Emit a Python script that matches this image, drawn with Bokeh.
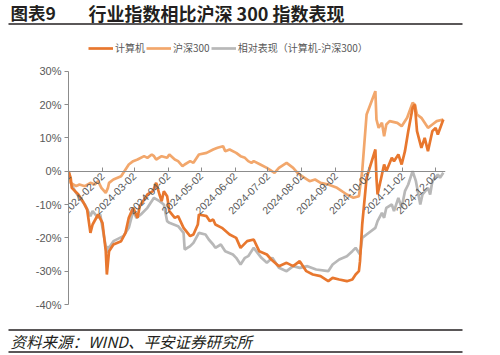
import math
import pandas as pd
from bokeh.plotting import figure
from bokeh.models import (Range1d, FixedTicker, DatetimeTickFormatter,
                          PrintfTickFormatter, Legend, LegendItem)
from bokeh.layouts import column
from bokeh.embed import file_html
from bokeh.resources import INLINE
from bokeh.core.properties import value

# ---------------- data ----------------
title_tag = "图表9"
title_text = "行业指数相比沪深 300 指数表现"
source_text = "资料来源：WIND、平安证券研究所"
series_names = ["计算机", "沪深300", "相对表现（计算机-沪深300）"]

tick_dates = ["2024-01-02", "2024-02-02", "2024-03-02", "2024-04-02", "2024-05-02",
              "2024-06-02", "2024-07-02", "2024-08-02", "2024-09-02", "2024-10-02",
              "2024-11-02", "2024-12-02"]
y_ticks = [-40, -30, -20, -10, 0, 10, 20, 30]

csi_dates = ["2024-01-02", "2024-01-04", "2024-01-09", "2024-01-12", "2024-01-17", "2024-01-22",
             "2024-01-26", "2024-01-29", "2024-02-01", "2024-02-05", "2024-02-07", "2024-02-08",
             "2024-02-12", "2024-02-19", "2024-02-22", "2024-02-26", "2024-03-01", "2024-03-05",
             "2024-03-11", "2024-03-14", "2024-03-18", "2024-03-20", "2024-03-22", "2024-03-27",
             "2024-04-01", "2024-04-03", "2024-04-08", "2024-04-11", "2024-04-15", "2024-04-17",
             "2024-04-22", "2024-04-25", "2024-04-30", "2024-05-07", "2024-05-13", "2024-05-17",
             "2024-05-22", "2024-05-24", "2024-05-28", "2024-06-03", "2024-06-07", "2024-06-11",
             "2024-06-14", "2024-06-17", "2024-06-19", "2024-06-25", "2024-07-01", "2024-07-08",
             "2024-07-12", "2024-07-19", "2024-07-25", "2024-07-29", "2024-08-02", "2024-08-09",
             "2024-08-14", "2024-08-19", "2024-08-26", "2024-09-03", "2024-09-12", "2024-09-18",
             "2024-09-23", "2024-09-26", "2024-09-30", "2024-10-08", "2024-10-09", "2024-10-11",
             "2024-10-14", "2024-10-16", "2024-10-18", "2024-10-21", "2024-10-28", "2024-11-01",
             "2024-11-06", "2024-11-11", "2024-11-13", "2024-11-15", "2024-11-19", "2024-11-25",
             "2024-11-29", "2024-12-03", "2024-12-09"]
csi_vals = [0, -3.5, -4.5, -4, -4.5, -3.5,
            -4, -3, -5, -6.5, -5, -3.5,
            -2.5, -1.5, 0, 2, 3, 3.5,
            4.5, 4, 5, 4.5, 3.5, 4.5,
            4, 5, 3.5, 3, 1.5, 2,
            3, 2.5, 5, 5.5, 6.5, 7,
            7.5, 6, 6.5, 5.5, 4.5, 4,
            3, 2.5, 3, 2, 1, -0.5,
            1, 2.5, 1, -0.5, -1.5, -3,
            -2.5, -3.5, -4, -5, -7, -8,
            -7.5, 0, 17, 24, 15.5, 13,
            14.5, 10.5, 14, 15, 14.5, 13.5,
            16, 20.5, 20, 17, 16, 13,
            14, 15, 15.5]

comp_dates = ["2024-01-02", "2024-01-04", "2024-01-05", "2024-01-11", "2024-01-15", "2024-01-19",
              "2024-01-22", "2024-01-24", "2024-01-29", "2024-02-02", "2024-02-05", "2024-02-06",
              "2024-02-08", "2024-02-12", "2024-02-19", "2024-02-23", "2024-02-26", "2024-03-01",
              "2024-03-05", "2024-03-07", "2024-03-14", "2024-03-19", "2024-03-22", "2024-03-25",
              "2024-03-27", "2024-03-29", "2024-04-01", "2024-04-03", "2024-04-08", "2024-04-11",
              "2024-04-16", "2024-04-22", "2024-04-25", "2024-04-29", "2024-04-30", "2024-05-07",
              "2024-05-10", "2024-05-13", "2024-05-15", "2024-05-21", "2024-05-28", "2024-06-03",
              "2024-06-07", "2024-06-13", "2024-06-19", "2024-06-24", "2024-07-01", "2024-07-05",
              "2024-07-12", "2024-07-19", "2024-07-25", "2024-07-31", "2024-08-06", "2024-08-12",
              "2024-08-19", "2024-08-26", "2024-08-30", "2024-09-05", "2024-09-12", "2024-09-17",
              "2024-09-20", "2024-09-23", "2024-09-24", "2024-09-26", "2024-09-30", "2024-10-08",
              "2024-10-09", "2024-10-10", "2024-10-14", "2024-10-16", "2024-10-18", "2024-10-23",
              "2024-10-25", "2024-10-29", "2024-11-01", "2024-11-04", "2024-11-07", "2024-11-11",
              "2024-11-13", "2024-11-15", "2024-11-19", "2024-11-22", "2024-11-25", "2024-11-29",
              "2024-12-02", "2024-12-04", "2024-12-09"]
comp_vals = [0, -2, -5, -7, -9, -11.5,
             -18.5, -16, -13, -15.5, -24, -31,
             -24, -22, -21, -18.5, -14, -11,
             -14, -10.5, -7, -6, -3.5, -7,
             -9, -6, -7.5, -12, -14, -13.5,
             -17, -19.5, -19, -16, -13, -13.5,
             -15, -14.5, -16, -17, -19, -20,
             -23, -21, -20.5, -24, -25, -26.5,
             -28.5, -27.5, -28.5, -27, -30, -31,
             -31.5, -33, -32, -32.5, -33, -32.5,
             -31, -30, -27, -16, -2, 6.5,
             -2, -7, -1, 2, 0, 4,
             3, 5, 2, 6, 12, 19,
             20, 12, 7, 10, 6, 12,
             13, 11, 15.5]

rel_dates = ["2024-01-02", "2024-01-04", "2024-01-08", "2024-01-12", "2024-01-17", "2024-01-22",
             "2024-01-24", "2024-01-29", "2024-01-31", "2024-02-02", "2024-02-06", "2024-02-07",
             "2024-02-08", "2024-02-12", "2024-02-21", "2024-02-26", "2024-03-01", "2024-03-04",
             "2024-03-08", "2024-03-14", "2024-03-20", "2024-03-25", "2024-03-29", "2024-04-01",
             "2024-04-03", "2024-04-11", "2024-04-16", "2024-04-17", "2024-04-22", "2024-04-25",
             "2024-04-30", "2024-05-06", "2024-05-09", "2024-05-13", "2024-05-15", "2024-05-20",
             "2024-05-24", "2024-05-31", "2024-06-03", "2024-06-07", "2024-06-11", "2024-06-14",
             "2024-06-19", "2024-06-26", "2024-07-01", "2024-07-06", "2024-07-12", "2024-07-19",
             "2024-07-25", "2024-07-31", "2024-08-07", "2024-08-15", "2024-08-26", "2024-08-30",
             "2024-09-05", "2024-09-12", "2024-09-17", "2024-09-20", "2024-09-24", "2024-09-26",
             "2024-09-30", "2024-10-08", "2024-10-10", "2024-10-14", "2024-10-16", "2024-10-18",
             "2024-10-23", "2024-10-25", "2024-10-29", "2024-11-01", "2024-11-04", "2024-11-07",
             "2024-11-11", "2024-11-14", "2024-11-18", "2024-11-20", "2024-11-25", "2024-11-27",
             "2024-11-29", "2024-12-04", "2024-12-06", "2024-12-09"]
rel_vals = [0, -3.5, -6, -8, -10, -13.5,
            -12, -14, -13, -17, -24.5, -22.5,
            -23, -21, -19.5, -17, -12, -14,
            -13, -11, -8, -9, -10, -15,
            -15.5, -16.5, -18.5, -23.5, -22.5, -21.5,
            -18.5, -19, -20.5, -22, -23, -22,
            -24, -25, -26, -28, -26, -25.5,
            -23, -26, -27.5, -26, -29, -30,
            -28.5, -29, -28.5, -29.5, -30, -28,
            -26.5, -25.5, -24, -23, -25, -20,
            -19, -17, -15, -12.5, -14, -11,
            -10, -12, -8, -11, -6, -4,
            0, -3, -10, -7, -5, -7,
            -3, -1, -2, -0.5]

# ---------------- styles ----------------
C_COMP = "#E8772E"
C_CSI = "#F2A76C"
C_REL = "#B8B8B8"
AX = "#8C8C8C"
TXT = "#595959"
INK = "#231F20"
CJK = value("Noto Sans CJK SC")

W = 480

# ---------------- header ----------------
h = figure(width=W, height=28, x_range=Range1d(0, W), y_range=Range1d(28, 0),
           x_axis_location=None, y_axis_location=None, title=None,
           output_backend="svg", toolbar_location=None, min_border=0, frame_align=False)
h.grid.visible = False
h.outline_line_color = None
h.text(x=[10], y=[12], text=[title_tag], text_font=CJK, text_font_size="17.5px",
       text_font_style="bold", text_baseline="middle", text_color=INK)
h.text(x=[88], y=[12], text=[title_text], text_font=CJK, text_font_size="18px",
       text_font_style="bold", text_baseline="middle", text_color=INK)
h.segment(x0=[8], y0=[23.5], x1=[462], y1=[23.5], line_color=INK, line_width=1.5)

# ---------------- main chart ----------------
p = figure(width=W, height=287, x_axis_type="datetime", title=None,
           x_range=Range1d(pd.Timestamp("2024-01-02"), pd.Timestamp("2024-12-11")),
           y_range=Range1d(-40, 39.2),
           output_backend="svg", toolbar_location=None, frame_align=False,
           min_border_left=68, min_border_right=W - 445, min_border_top=12, min_border_bottom=11)
p.grid.visible = False
p.outline_line_color = None

r_rel = p.line(pd.to_datetime(rel_dates), rel_vals, line_color=C_REL, line_width=2.7)
r_csi = p.line(pd.to_datetime(csi_dates), csi_vals, line_color=C_CSI, line_width=2.7)
r_comp = p.line(pd.to_datetime(comp_dates), comp_vals, line_color=C_COMP, line_width=2.7)

xa = p.xaxis[0]
xa.fixed_location = 0
xa.ticker = FixedTicker(ticks=[pd.Timestamp(d).value // 10**6 for d in tick_dates])
fmt = "%Y-%m-%d"
xa.formatter = DatetimeTickFormatter(microseconds=fmt, milliseconds=fmt, seconds=fmt,
                                     minsec=fmt, minutes=fmt, hourmin=fmt, hours=fmt,
                                     days=fmt, months=fmt, years=fmt)
xa.major_label_orientation = math.pi / 4
xa.major_tick_in = 4
xa.major_tick_out = 0
xa.minor_tick_in = 0
xa.minor_tick_out = 0
xa.axis_line_color = AX
xa.major_tick_line_color = AX
xa.major_label_text_font = "Liberation Sans"
xa.major_label_text_font_size = "10.5px"
xa.major_label_text_color = TXT
xa.major_label_standoff = 3

ya = p.yaxis[0]
ya.bounds = (-40, 30)
ya.ticker = FixedTicker(ticks=y_ticks)
ya.formatter = PrintfTickFormatter(format="%d%%")
ya.major_tick_in = 0
ya.major_tick_out = 4
ya.minor_tick_in = 0
ya.minor_tick_out = 0
ya.axis_line_color = AX
ya.major_tick_line_color = AX
ya.major_label_text_font = "Liberation Sans"
ya.major_label_text_font_size = "11px"
ya.major_label_text_color = TXT
ya.major_label_standoff = 3

legend = Legend(items=[LegendItem(label=series_names[0], renderers=[r_comp]),
                       LegendItem(label=series_names[1], renderers=[r_csi]),
                       LegendItem(label=series_names[2], renderers=[r_rel])],
                location=(20, 249), orientation="horizontal",
                padding=0, margin=0, spacing=1, label_standoff=2,
                glyph_width=25, glyph_height=12, label_height=12,
                label_text_font="Noto Sans CJK SC", label_text_font_size="10px",
                label_text_color=TXT, border_line_alpha=0, background_fill_alpha=0)
p.add_layout(legend)

# ---------------- footer ----------------
f = figure(width=W, height=39, x_range=Range1d(0, W), y_range=Range1d(39, 0),
           x_axis_location=None, y_axis_location=None, title=None,
           output_backend="svg", toolbar_location=None, min_border=0, frame_align=False)
f.grid.visible = False
f.outline_line_color = None
f.segment(x0=[8], y0=[14.5], x1=[462], y1=[14.5], line_color=INK, line_width=1.5)
f.text(x=[10], y=[25], text=[source_text], text_font=CJK, text_font_size="15.5px",
       text_font_style="italic", text_baseline="middle", text_color=INK)
f.segment(x0=[8], y0=[36.5], x1=[462], y1=[36.5], line_color=INK, line_width=1.5)

layout = column(h, p, f, spacing=0)
open("out.html", "w").write(file_html(layout, INLINE))
